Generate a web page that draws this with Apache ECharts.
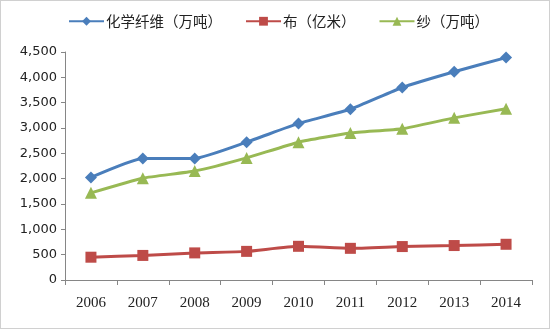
<!DOCTYPE html>
<html><head><meta charset="utf-8">
<script src="https://cdn.jsdelivr.net/npm/echarts@6/dist/echarts.min.js"></script>
<style>html,body{margin:0;padding:0;background:#fff}#c{width:550px;height:329px;box-sizing:border-box;border:1px solid #d0d0d0}</style>
</head><body><div id="c"></div>
<script>
const years = ['2006','2007','2008','2009','2010','2011','2012','2013','2014'];
const fiber = [2025, 2398, 2400, 2720, 3090, 3370, 3800, 4110, 4390];
const cloth = [450, 485, 535, 565, 665, 625, 660, 680, 705];
const yarn = [1720, 2010, 2150, 2410, 2720, 2900, 2985, 3200, 3380];
const names = ['化学纤维（万吨）', '布（亿米）', '纱（万吨）'];
const chart = echarts.init(document.getElementById('c'));
const axisColor = '#868686';
chart.setOption({
  animation: false,
  legend: {
    top: 8, left: 62, itemWidth: 35, itemHeight: 11, itemGap: 23,
    textStyle: {fontSize: 14.5, color: '#222', fontFamily: 'Noto Sans CJK SC', padding: [0, 0, 0, -3]},
    data: names
  },
  grid: {left: 64, right: 17, top: 51, bottom: 48},
  xAxis: {
    type: 'category', data: years, boundaryGap: true,
    axisLine: {lineStyle: {color: axisColor}},
    axisTick: {show: true, length: 5, lineStyle: {color: axisColor}},
    axisLabel: {color: '#222', fontSize: 15, fontFamily: 'Liberation Serif', margin: 16}
  },
  yAxis: {
    type: 'value', min: 0, max: 4500, interval: 500,
    axisLine: {show: true, lineStyle: {color: axisColor}},
    axisTick: {show: true, length: 4, lineStyle: {color: axisColor}},
    splitLine: {show: false},
    axisLabel: {color: '#222', fontSize: 13, fontFamily: 'DejaVu Sans', margin: 8,
      formatter: v => v.toLocaleString('en-US')}
  },
  series: [
    {name: names[0], type: 'line', data: fiber, symbol: 'diamond', symbolSize: 12,
     itemStyle: {color: '#4A7EBB'}, lineStyle: {width: 3, color: '#4A7EBB'}, smooth: 0.15},
    {name: names[1], type: 'line', data: cloth, symbol: 'rect', symbolSize: 11,
     itemStyle: {color: '#BE4B48'}, lineStyle: {width: 3, color: '#BE4B48'}, smooth: 0.15},
    {name: names[2], type: 'line', data: yarn, symbol: 'triangle', symbolSize: 12,
     itemStyle: {color: '#98B954'}, lineStyle: {width: 3, color: '#98B954'}, smooth: 0.15}
  ]
});
</script></body></html>
